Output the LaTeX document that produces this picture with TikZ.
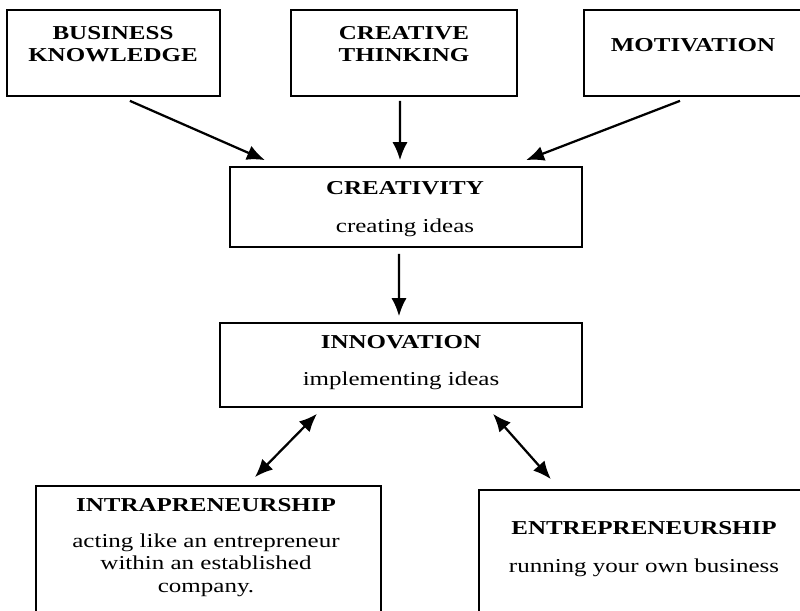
\documentclass[tikz,border=0pt]{standalone}
\usepackage{fontspec}
\setmainfont{Liberation Serif}[FakeStretch=1.27]
\usetikzlibrary{arrows.meta}

\tikzset{
	box/.style={draw, line width=1.2pt, inner sep=0pt},
	txt/.style={anchor=base, align=center, inner sep=0pt, font=\fontsize{14}{16}\selectfont},
	arr/.style={line width=1.6pt, -{Latex[length=4.5mm,width=3.8mm]}},
	darr/.style={line width=1.6pt, {Latex[length=4.5mm,width=3.8mm]}-{Latex[length=4.5mm,width=3.8mm]}}
}

\begin{document}
\begin{tikzpicture}[x=0.025cm, y=-0.025cm]
		%%%%% START %%%%%
		
		\clip (0, 0) rectangle (800, 610);
		
		% top row
		\node[box, minimum width=5.325cm, minimum height=2.15cm] (know) at (113.5, 53) {};
		\node[box, minimum width=5.65cm, minimum height=2.15cm] (think) at (404, 53) {};
		\node[box, minimum width=6.15cm, minimum height=2.15cm] (motiv) at (707, 53) {};
		\node[txt, font=\fontsize{14}{16}\selectfont\bfseries] (knowtxt) at (113, 62) {BUSINESS\\KNOWLEDGE};
		\node[txt, font=\fontsize{14}{16}\selectfont\bfseries] (thinktxt) at (404, 62) {CREATIVE\\THINKING};
		\node[txt, font=\fontsize{14}{16}\selectfont\bfseries] (motivtxt) at (693, 51.5) {MOTIVATION};
		
		% middle
		\node[box, minimum width=8.8cm, minimum height=2.0cm] (creat) at (406, 207) {};
		\node[txt] (creattxt) at (405, 232) {\textbf{CREATIVITY}\\[11pt]creating ideas};
		
		\node[box, minimum width=9.05cm, minimum height=2.1cm] (innov) at (401, 365) {};
		\node[txt] (innovtxt) at (401, 385) {\textbf{INNOVATION}\\[10pt]implementing ideas};
		
		% bottom row
		\node[box, minimum width=8.625cm, minimum height=4.1cm] (intra) at (208.5, 568) {};
		\node[txt] (intratxt) at (206, 592) {\textbf{INTRAPRENEURSHIP}\\[9pt]acting like an entrepreneur\\within an established\\company.};
		
		\node[box, minimum width=8.775cm, minimum height=4.0cm] (entre) at (654.5, 570) {};
		\node[txt] (entretxt) at (644, 572) {\textbf{ENTREPRENEURSHIP}\\[11pt]running your own business};
		
		% arrows
		\draw[arr] ([xshift=0.41cm, yshift=-0.1cm]know.south) -- ([xshift=-3.525cm, yshift=0.15cm]creat.north);
		\draw[arr] ([xshift=-0.1cm, yshift=-0.1cm]think.south) -- ([xshift=-0.15cm, yshift=0.15cm]creat.north);
		\draw[arr] ([xshift=-0.675cm, yshift=-0.1cm]motiv.south) -- ([xshift=3.0cm, yshift=0.15cm]creat.north);
		
		\draw[arr] ([xshift=-0.175cm, yshift=-0.15cm]creat.south) -- ([xshift=-0.05cm, yshift=0.15cm]innov.north);
		
		\draw[darr] ([xshift=-2.1cm, yshift=-0.15cm]innov.south) -- ([xshift=1.16cm, yshift=0.2cm]intra.north);
		\draw[darr] ([xshift=2.3cm, yshift=-0.15cm]innov.south) -- ([xshift=-2.59cm, yshift=0.25cm]entre.north);
		
		%%%%% END %%%%%
	\end{tikzpicture}
\end{document}
